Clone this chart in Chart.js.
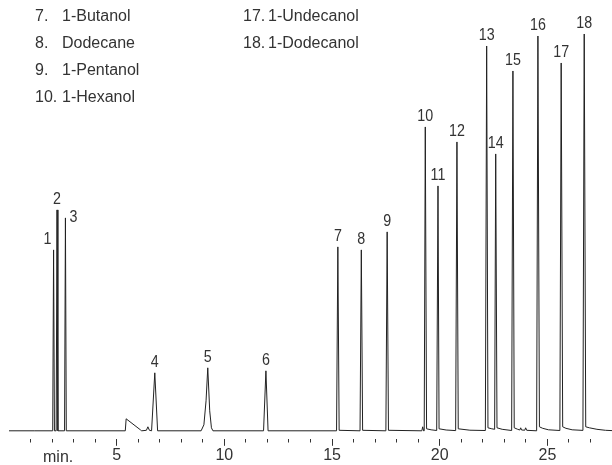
<!DOCTYPE html>
<html>
<head>
<meta charset="utf-8">
<script src="https://cdn.jsdelivr.net/npm/chart.js@4.4.1/dist/chart.umd.min.js"></script>
<style>
  body { margin: 0; background: #fff; }
  #wrap { position: relative; width: 612px; height: 465px; }
  #legend { position: absolute; top: 2px; left: 35px; font: 16px "Liberation Sans", Arial, sans-serif; color: #333; }
  #legend .col { position: absolute; top: 0; white-space: nowrap; }
  #legend .row { height: 27px; line-height: 27px; }
  #legend .num { display: inline-block; }
  #minLabel { position: absolute; left: 43px; top: 449px; font: 16px "Liberation Sans", Arial, sans-serif; line-height: 16px; color: #333; }
</style>
</head>
<body>
<div id="wrap">
  <canvas id="chromChart" width="612" height="465"></canvas>
  <div id="legend"></div>
  <div id="minLabel">min.</div>
</div>
<script>
// Trace: retention time (min) and detector signal (arbitrary units)
const traceTime = [
  0, 1.2, 2.03, 2.07, 2.11, 2.19, 2.23, 2.27, 2.58, 2.62, 2.66,
  5.40, 5.44, 6.10, 6.16, 6.38, 6.45, 6.52, 6.62, 6.77, 6.90,
  8.92, 9.05, 9.15, 9.23, 9.32, 9.40, 9.47, 11.82, 11.93, 12.03,
  15.21, 15.27, 15.33, 16.30, 16.36, 16.42, 17.50, 17.56, 17.62,
  19.17, 19.21, 19.25, 19.28, 19.33, 19.39, 19.6, 19.86, 19.92, 19.97, 20.3,
  20.74, 20.80, 20.86, 21.4, 22.12, 22.18, 22.24, 22.42, 22.55, 22.60, 22.66, 22.9,
  23.34, 23.40, 23.46, 23.62, 23.72, 23.76, 23.80, 23.95, 23.99, 24.04,
  24.50, 24.56, 24.63, 24.78, 25.05, 25.58, 25.64, 25.71, 25.86, 26.15,
  26.65, 26.71, 26.78, 26.95, 27.3, 27.7, 28
];
const traceSignal = [
  0, 0, 0, 181, 0, 0, 221, 0, 0, 213, 0,
  0, 12, 1, 0, 0.5, 4, 0.5, 0, 58, 0,
  0, 6, 30, 63, 20, 3, 0, 0, 60, 0,
  0, 184, 0.5, 0, 181, 0.5, 0, 199, 0.5,
  0, 4, 0, 0, 304, 2, 1, 0.3, 245, 2, 0.8,
  0.2, 289, 2, 0.6, 0.3, 385, 3, 2, 1.5, 277, 3, 1.5,
  0.3, 360, 3, 1.5, 0.8, 3, 0.8, 0.6, 3, 0.5,
  0, 395, 4, 2.5, 1, 0.3, 368, 4, 2.5, 1,
  0.4, 397, 4, 3, 1.5, 0.5, 0.2
];

// Peak labels
const peakNumbers = [1, 2, 3, 4, 5, 6, 7, 8, 9, 10, 11, 12, 13, 14, 15, 16, 17, 18];
const peakTimes = [2.07, 2.23, 2.62, 6.77, 9.23, 11.93, 15.27, 16.36, 17.56, 19.33, 19.92, 20.80, 22.18, 22.60, 23.40, 24.56, 25.64, 26.71];
const peakHeights = [181, 221, 213, 58, 63, 60, 184, 181, 199, 304, 245, 289, 385, 277, 360, 395, 368, 397];

// Axis
const majorTicks = [5, 10, 15, 20, 25];

// Compound list shown top left
const legendNumbers = ["7.", "8.", "9.", "10.", "17.", "18."];
const legendNames = ["1-Butanol", "Dodecane", "1-Pentanol", "1-Hexanol", "1-Undecanol", "1-Dodecanol"];

function buildLegend() {
  const el = document.getElementById("legend");
  const cols = [legendNumbers.slice(0, 4).map((n, i) => [n, legendNames[i]]),
                legendNumbers.slice(4).map((n, i) => [n, legendNames[i + 4]])];
  const lefts = [0, 208];
  const numWidths = [27, 25];
  cols.forEach((rows, c) => {
    const col = document.createElement("div");
    col.className = "col";
    col.style.left = lefts[c] + "px";
    rows.forEach(([n, name]) => {
      const row = document.createElement("div");
      row.className = "row";
      row.innerHTML = `<span class="num" style="width:${numWidths[c]}px">${n}</span>${name}`;
      col.appendChild(row);
    });
    el.appendChild(col);
  });
}

// draws the peak numbers above each apex (slightly condensed, like the original typeface)
const peakLabelPlugin = {
  id: "peakLabels",
  afterDatasetsDraw(chart, args, opts) {
    const { ctx } = chart;
    const xs = chart.scales.x, ys = chart.scales.y;
    ctx.save();
    ctx.font = opts.font;
    ctx.fillStyle = opts.color;
    ctx.textAlign = "center";
    ctx.textBaseline = "alphabetic";
    peakNumbers.forEach((n, i) => {
      const off = opts.offsets[n] || [0, 0];
      const x = xs.getPixelForValue(peakTimes[i]) + off[0];
      const y = ys.getPixelForValue(peakHeights[i]) - opts.gap + off[1];
      ctx.save();
      ctx.translate(x, y);
      ctx.scale(opts.squeeze, 1);
      ctx.fillText(String(n), 0, 0);
      ctx.restore();
    });
    ctx.restore();
  }
};

buildLegend();

new Chart(document.getElementById("chromChart").getContext("2d"), {
  type: "line",
  data: {
    datasets: [{
      data: traceTime.map((t, i) => ({ x: t, y: traceSignal[i] })),
      borderColor: "#222",
      borderWidth: 1,
      pointRadius: 0,
      tension: 0,
      fill: false
    }]
  },
  options: {
    responsive: false,
    animation: false,
    layout: { padding: { left: 9, right: 0, top: 30, bottom: 0 } },
    plugins: {
      legend: { display: false },
      tooltip: { enabled: false },
      peakLabels: {
        font: '17px "Liberation Sans", Arial, sans-serif',
        color: "#333",
        gap: 6,
        squeeze: 0.84,
        offsets: { 1: [-6, 0], 3: [8, 10] }
      }
    },
    scales: {
      x: {
        type: "linear",
        min: 0,
        max: 28,
        border: { display: false },
        grid: {
          drawOnChartArea: false,
          drawTicks: true,
          tickLength: 7,
          tickWidth: 1,
          tickColor: (c) => (c.tick && (c.tick.value === 0 || c.tick.value === 28)) ? "rgba(0,0,0,0)" : "#333",
          tickBorderDash: (c) => (c.tick && majorTicks.includes(c.tick.value)) ? [] : [3.5, 20]
        },
        ticks: {
          stepSize: 1,
          includeBounds: false,
          autoSkip: false,
          maxRotation: 0,
          padding: 0,
          color: "#333",
          font: { family: '"Liberation Sans", Arial, sans-serif', size: 16 },
          callback: (v) => majorTicks.includes(v) ? String(v) : ""
        }
      },
      y: {
        display: false,
        min: -8,
        max: 401
      }
    }
  },
  plugins: [peakLabelPlugin]
});
</script>
</body>
</html>
